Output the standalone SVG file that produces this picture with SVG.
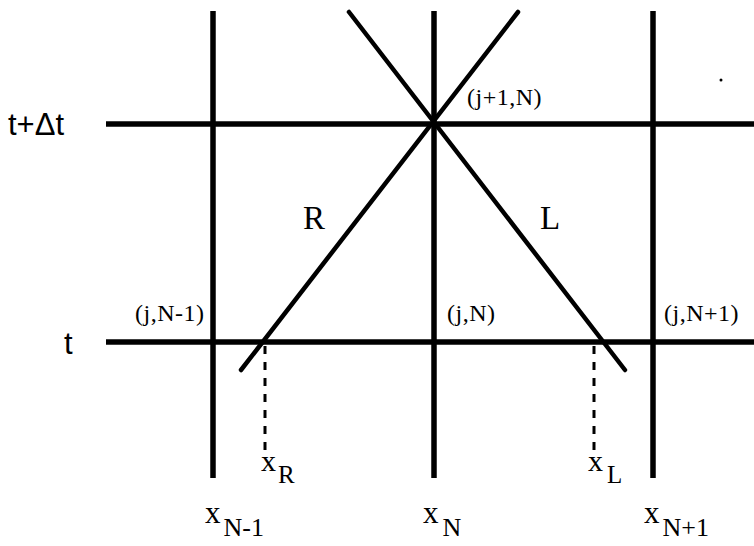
<svg xmlns="http://www.w3.org/2000/svg" width="754" height="546" viewBox="0 0 754 546">
<style>
.grid{stroke:#000;stroke-width:5.5;fill:none}
.diag{stroke:#000;stroke-width:4.5;fill:none;stroke-linecap:round}
.dash{stroke:#000;stroke-width:3;stroke-dasharray:8 8;fill:none}
.lbl{font-family:"Liberation Serif","Times New Roman",serif;fill:#000}
.node{font-family:"Liberation Serif","Times New Roman",serif;fill:#000;font-size:24px;letter-spacing:0.5px}
.ax{font-family:"Liberation Sans",Arial,sans-serif;fill:#000}
</style>
<rect width="754" height="546" fill="#fff"/>
<g id="connectors">
<line class="grid" x1="213" y1="11" x2="213" y2="478"/>
<line class="grid" x1="434" y1="11" x2="434" y2="478"/>
<line class="grid" x1="653" y1="11" x2="653" y2="478"/>
<line class="grid" x1="106" y1="124" x2="754" y2="124"/>
<line class="grid" x1="106" y1="342" x2="754" y2="342"/>
<line class="diag" x1="349" y1="12" x2="625" y2="370"/>
<line class="diag" x1="518" y1="12" x2="241" y2="370"/>
<line class="dash" x1="265" y1="346" x2="265" y2="450"/>
<line class="dash" x1="594" y1="346" x2="594" y2="450"/>
</g>
<circle cx="721" cy="80" r="1.5" fill="#000"/>
<g id="axis-labels">
<text class="ax" x="8" y="135" font-size="31">t+Δt</text>
<text class="ax" x="64" y="354" font-size="31">t</text>
</g>
<g id="node-j1N"><text class="node" x="467" y="105">(j+1,N)</text></g>
<g id="node-jNm1"><text class="node" x="135" y="321">(j,N-1)</text></g>
<g id="node-jN"><text class="node" x="447" y="321">(j,N)</text></g>
<g id="node-jNp1"><text class="node" x="664" y="321">(j,N+1)</text></g>
<g id="char-labels">
<text class="lbl" x="303" y="229" font-size="33">R</text>
<text class="lbl" x="540" y="229" font-size="33">L</text>
</g>
<g id="x-labels">
<text class="lbl" x="261" y="471" font-size="30">x<tspan font-size="25" dx="2" dy="12">R</tspan></text>
<text class="lbl" x="588" y="471" font-size="30">x<tspan font-size="25" dx="4" dy="12">L</tspan></text>
<text class="lbl" x="205" y="523" font-size="31">x<tspan font-size="26" dx="3" dy="13">N-1</tspan></text>
<text class="lbl" x="423" y="523" font-size="31">x<tspan font-size="26" dx="4" dy="13">N</tspan></text>
<text class="lbl" x="644" y="523" font-size="31">x<tspan font-size="26" dx="3" dy="13">N+1</tspan></text>
</g>
</svg>
